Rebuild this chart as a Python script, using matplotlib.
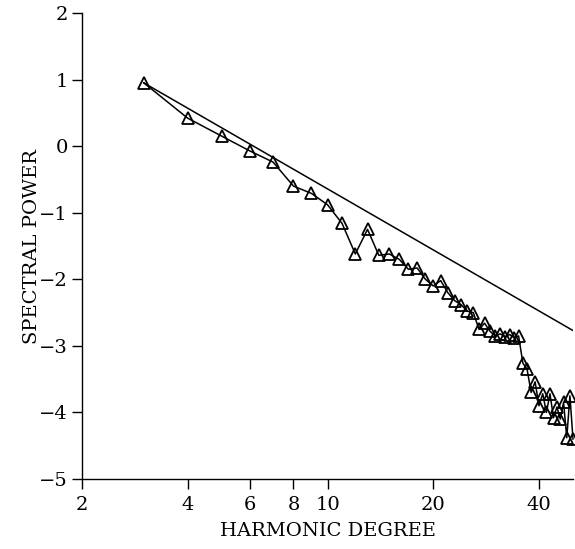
import matplotlib
matplotlib.use("Agg")
import matplotlib.pyplot as plt
import matplotlib.ticker as ticker

# harmonic degree vs log spectral power
degree=list(range(3,51))
power=[0.95,0.42,0.15,-0.07,-0.24,-0.60,-0.71,-0.88,-1.16,-1.62,
       -1.25,-1.64,-1.62,-1.70,-1.85,-1.83,-2.00,-2.10,-2.02,-2.20,
       -2.32,-2.38,-2.48,-2.50,-2.75,-2.66,-2.78,-2.85,-2.82,-2.86,
       -2.83,-2.88,-2.85,-3.26,-3.35,-3.70,-3.54,-3.90,-3.72,-4.00,
       -3.72,-4.08,-3.92,-4.10,-3.85,-4.38,-3.75,-4.40]

# fitted reference line
fit_degree=[3,50]
fit_power=[0.95,-2.77]

xticks=[2,4,6,8,10,20,40]
yticks=[-5,-4,-3,-2,-1,0,1,2]

plt.rcParams['font.family']=['DejaVu Serif']
plt.rcParams['font.size']=14

fig=plt.figure(figsize=(5.75,5.49),dpi=100)
ax=fig.add_axes([82/575,70/549,491/575,466/549])

ax.plot(fit_degree,fit_power,color='black',linewidth=1.1)
ax.plot(degree,power,color='black',linewidth=1.1,marker='^',markersize=9,
        markerfacecolor='none',markeredgecolor='black',markeredgewidth=1.3,clip_on=False)

ax.set_xscale('log')
ax.set_xlim(2,50)
ax.set_ylim(-5,2)
ax.xaxis.set_major_locator(ticker.FixedLocator(xticks))
ax.xaxis.set_major_formatter(ticker.FixedFormatter([str(t) for t in xticks]))
ax.xaxis.set_minor_locator(ticker.NullLocator())
ax.set_yticks(yticks)

for s in ['top','right']:
    ax.spines[s].set_visible(False)
for s in ['left','bottom']:
    ax.spines[s].set_linewidth(1.0)
ax.tick_params(direction='out',length=7,width=1.0,labelsize=14,pad=3)
ax.tick_params(axis='x',pad=5)

ax.set_xlabel('HARMONIC DEGREE',fontsize=14,labelpad=6)
ax.set_ylabel('SPECTRAL POWER',fontsize=14,labelpad=-1)

fig.savefig('out.png',dpi=100)
